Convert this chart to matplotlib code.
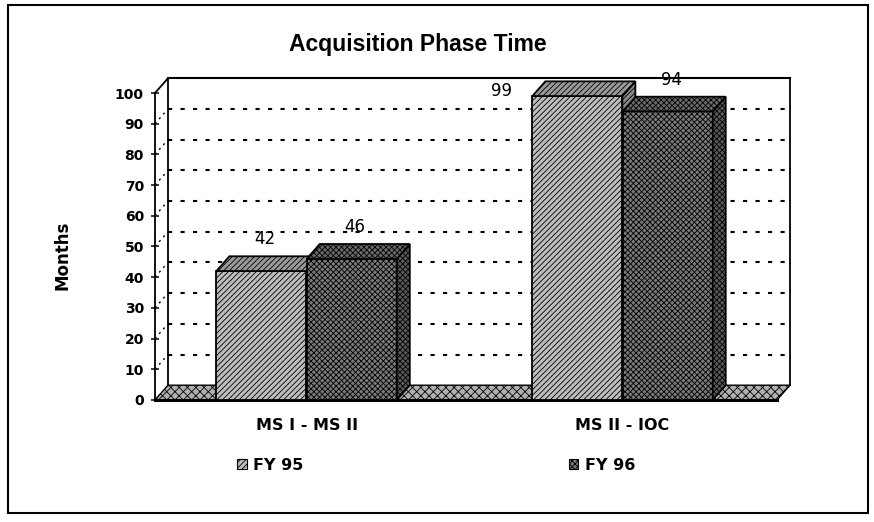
import matplotlib
matplotlib.use("Agg")
import matplotlib.pyplot as plt
from matplotlib.patches import Polygon, Rectangle, Patch
import numpy as np

categories = ["MS I - MS II", "MS II - IOC"]
series_names = ["FY 95", "FY 96"]
fy95 = [42, 99]
fy96 = [46, 94]
y_ticks = [0, 10, 20, 30, 40, 50, 60, 70, 80, 90, 100]
title = "Acquisition Phase Time"
ylabel = "Months"

plt.rcParams['font.family'] = ['DejaVu Sans']
plt.rcParams['hatch.linewidth'] = 0.6

W, H = 874, 522
fig = plt.figure(figsize=(W/100, H/100), dpi=100)
fig.patch.set_facecolor('white')

XL, XR = -0.48, 1.53
YB, YT = -1.0, 106.0
ax = fig.add_axes([155/W, 119/H, 635/W, 328.4/H])
ax.set_xlim(XL, XR)
ax.set_ylim(YB, YT)
ax.patch.set_alpha(0)
for s in ['top', 'right', 'bottom']:
    ax.spines[s].set_visible(False)
ax.spines['left'].set_bounds(0, 100)
ax.spines['left'].set_linewidth(1.3)

DX, DY = 0.041, 4.8
width = 0.285
offs = [-0.143, 0.143]
styles = [
    dict(front='#bdbdbd', top='#9a9a9a', side='#8a8a8a', hatch='//////'),
    dict(front='#7a7a7a', top='#6a6a6a', side='#5a5a5a', hatch='xxxxxx'),
]

# back wall gridlines
for v in y_ticks[1:-1]:
    ax.plot([XL + DX, XR], [v + DY, v + DY], color='black', lw=1.5,
            linestyle=(0, (2, 4)), zorder=1, clip_on=False)
    ax.plot([XL, XL + DX], [v, v + DY], color='black', lw=1.0,
            linestyle=(0, (1.5, 3)), zorder=1, clip_on=False)

# back wall outline
ax.plot([XL + DX, XR], [100 + DY, 100 + DY], color='black', lw=1.5, zorder=1, clip_on=False)
ax.plot([XL + DX, XL + DX], [DY, 100 + DY], color='black', lw=1.3, zorder=1, clip_on=False)
ax.plot([XR, XR], [DY, 100 + DY], color='black', lw=1.3, zorder=1, clip_on=False)
ax.plot([XL, XL + DX], [100, 100 + DY], color='black', lw=1.3, zorder=1, clip_on=False)

# floor
floor = Polygon([(XL, 0), (XR - DX, 0), (XR, DY), (XL + DX, DY)], closed=True,
                facecolor='#b0b0b0', edgecolor='black', hatch='xxxx', lw=1.0,
                zorder=2, clip_on=False)
ax.add_patch(floor)
ax.plot([XL, XR - DX], [0, 0], color='black', lw=2.2, zorder=2.5, clip_on=False)

x = np.arange(len(categories))
z = 3
for si, vals in enumerate([fy95, fy96]):
    st = styles[si]
    for ci, v in enumerate(vals):
        xc = x[ci] + offs[si]
        x0, x1 = xc - width/2, xc + width/2
        ax.bar(xc, v, width=width, bottom=0, facecolor=st['front'], edgecolor='black',
               hatch=st['hatch'], lw=1.3, zorder=z + si * 3 + ci * 10)
        top = Polygon([(x0, v), (x1, v), (x1 + DX, v + DY), (x0 + DX, v + DY)], closed=True,
                      facecolor=st['top'], edgecolor='black', hatch=st['hatch'], lw=1.3,
                      zorder=z + si * 3 + ci * 10 + 1, clip_on=False)
        side = Polygon([(x1, 0), (x1 + DX, DY), (x1 + DX, v + DY), (x1, v)], closed=True,
                       facecolor=st['side'], edgecolor='black', hatch=st['hatch'], lw=1.3,
                       zorder=z + si * 3 + ci * 10 + 1, clip_on=False)
        ax.add_patch(side)
        ax.add_patch(top)
        ly = v + DY + 5.5
        if ly > YT:
            ax.text(x0 - 0.065, v + 1.5, f"{v}", ha='right', va='center', fontsize=12, zorder=50)
        else:
            ax.text(xc + DX/2 - 0.01, ly, f"{v}", ha='center', va='center', fontsize=12, zorder=50)

ax.set_yticks(y_ticks)
ax.set_yticklabels([str(t) for t in y_ticks], fontsize=10, fontweight='bold')
ax.tick_params(axis='y', direction='inout', length=6, width=1.1, pad=5)
ax.set_xticks(x)
ax.set_xticklabels(categories, fontsize=11.5, fontweight='bold')
ax.tick_params(axis='x', length=0, pad=11)
ax.set_ylabel(ylabel, fontsize=12, fontweight='bold')
ax.yaxis.set_label_coords(-0.131, 0.45)

fig.text(418/W, 1 - 44/H, title, ha='center', va='center', fontsize=16.5, fontweight='bold',
         family=['Liberation Sans', 'DejaVu Sans'])

handles = [Patch(facecolor=styles[i]['front'], edgecolor='black', hatch=styles[i]['hatch'], lw=0.8)
           for i in range(2)]
leg = fig.legend(handles, series_names, loc='center', bbox_to_anchor=(436/W, 1 - 465/H), ncol=2,
                 frameon=False, prop={'size': 11.5, 'weight': 'bold'}, handlelength=0.6,
                 handleheight=0.6, handletextpad=0.4, columnspacing=16.6)

fig.add_artist(Rectangle((8/W, 1 - 513/H), 860/W, 508/H, transform=fig.transFigure,
                         fill=False, edgecolor='black', lw=1.5))

fig.savefig('out.png', dpi=100)
